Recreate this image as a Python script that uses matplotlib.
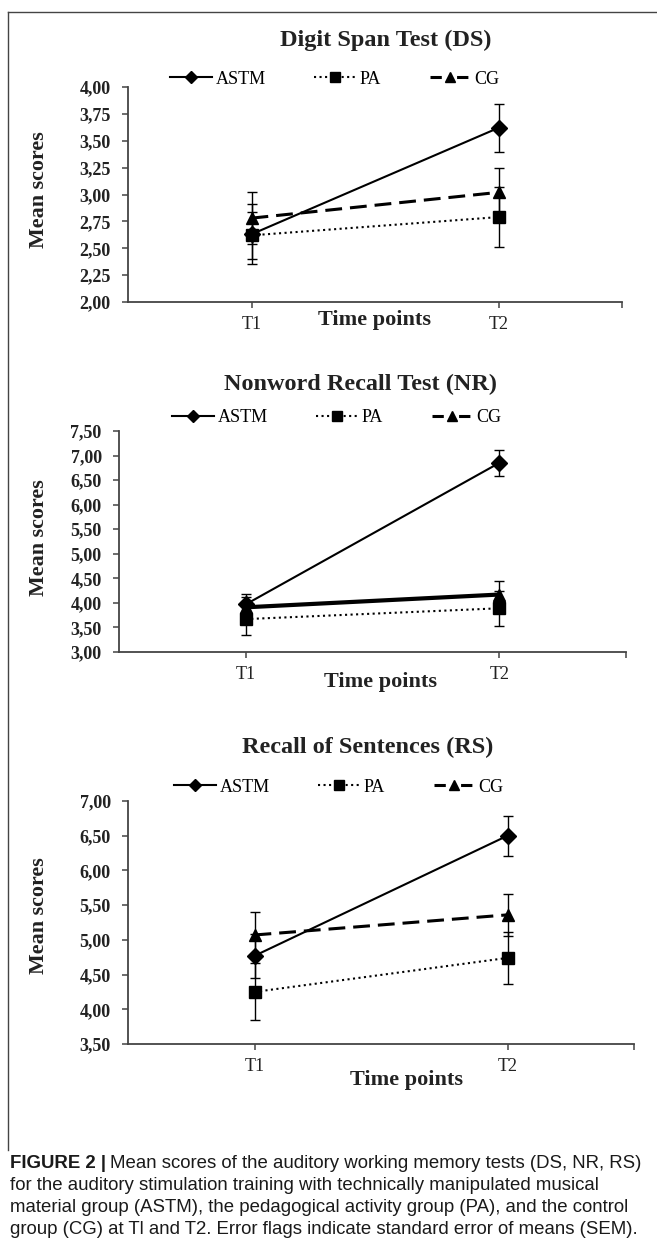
import matplotlib
matplotlib.use('Agg')
import matplotlib.pyplot as plt
from matplotlib.ticker import FuncFormatter, MultipleLocator
from matplotlib.lines import Line2D

# data
times = ['T1', 'T2']
groups = ['ASTM', 'PA', 'CG']

ds_astm = [2.63, 3.62]
ds_astm_sem = [0.28, 0.22]
ds_pa = [2.62, 2.79]
ds_pa_sem = [0.22, 0.28]
ds_cg = [2.78, 3.02]
ds_cg_sem = [0.24, 0.23]

nr_astm = [3.97, 6.85]
nr_astm_sem = [0.22, 0.27]
nr_pa = [3.67, 3.89]
nr_pa_sem = [0.33, 0.36]
nr_cg = [3.91, 4.17]
nr_cg_sem = [0.20, 0.27]

rs_astm = [4.77, 6.50]
rs_astm_sem = [0.32, 0.29]
rs_pa = [4.25, 4.74]
rs_pa_sem = [0.41, 0.37]
rs_cg = [5.07, 5.36]
rs_cg_sem = [0.33, 0.30]

caption_lines = [
    'Mean scores of the auditory working memory tests (DS, NR, RS)',
    'for the auditory stimulation training with technically manipulated musical',
    'material group (ASTM), the pedagogical activity group (PA), and the control',
    'group (CG) at Tl and T2. Error flags indicate standard error of means (SEM).',
]

W, H = 657, 1238
SERIF = 'Liberation Serif'
SANS = 'Liberation Sans'
INK = '#222222'

fig = plt.figure(figsize=(W / 100, H / 100), dpi=100)


def fx(px):
    return px / W


def fy(py):
    return 1 - py / H


cg_dash = (0, (5.5, 2.6))
legend_handles = [
    Line2D([], [], color='black', lw=1.5, marker='D', ms=6.5),
    Line2D([], [], color='black', lw=1.5, ls=':', marker='s', ms=7),
    Line2D([], [], color='black', lw=2.2, ls=(0, (3.7, 5.0)), marker='^', ms=7.5),
]


def panel(box, title, title_xy, legend_xy, ylabel_xy, xlabel_xy,
          astm, astm_sem, pa, pa_sem, cg, cg_sem, ylim, step, cg_ls):
    left, top, right, bottom = box
    ax = fig.add_axes([fx(left), fy(bottom), fx(right - left), (bottom - top) / H])
    x = [1, 2]
    eb = dict(ecolor='black', elinewidth=1.0, capsize=3.8, capthick=1.0)
    ax.errorbar(x, pa, yerr=pa_sem, color='black', lw=1.5, ls=':', marker='s',
                ms=8.5, zorder=3, **eb)
    ax.errorbar(x, cg, yerr=cg_sem, color='black',
                lw=3.0 if cg_ls == '-' else 2.2, ls=cg_ls, marker='^',
                ms=9, zorder=4, **eb)
    ax.errorbar(x, astm, yerr=astm_sem, color='black', lw=1.5, ls='-', marker='D',
                ms=8, zorder=5, **eb)

    ax.set_xlim(0.5, 2.5)
    ax.set_ylim(*ylim)
    ax.yaxis.set_major_locator(MultipleLocator(step))
    ax.yaxis.set_major_formatter(FuncFormatter(lambda v, p: f'{v:.2f}'.replace('.', ',')))
    ax.set_xticks(x)
    ax.set_xticklabels(times)
    ax.set_xticks([2.5], minor=True)
    for s in ['top', 'right']:
        ax.spines[s].set_visible(False)
    for s in ['left', 'bottom']:
        ax.spines[s].set_color('#444444')
        ax.spines[s].set_linewidth(1.3)
    ax.tick_params(axis='y', direction='out', length=4.5, width=1.1, color='#444444',
                   pad=8, labelsize=13, labelcolor=INK)
    ax.tick_params(axis='x', which='both', direction='out', length=4.5, width=1.1,
                   color='#444444', pad=5.5, labelsize=13, labelcolor=INK)
    for lab in ax.get_yticklabels():
        lab.set_fontfamily(SERIF)
        lab.set_fontweight('bold')
    for lab in ax.get_xticklabels():
        lab.set_fontfamily(SERIF)

    fig.text(fx(title_xy[0]), fy(title_xy[1]), title, ha='center', va='center',
             fontsize=17.5, fontweight='bold', family=SERIF, color=INK)
    fig.text(fx(ylabel_xy[0]), fy(ylabel_xy[1]), 'Mean scores', ha='center',
             va='center', rotation=90, fontsize=15.8, fontweight='bold',
             family=SERIF, color=INK)
    fig.text(fx(xlabel_xy[0]), fy(xlabel_xy[1]), 'Time points', ha='center',
             va='center', fontsize=16, fontweight='bold', family=SERIF, color=INK)
    ax.legend(legend_handles, groups, loc='center',
              bbox_to_anchor=(fx(legend_xy[0]), fy(legend_xy[1])),
              bbox_transform=fig.transFigure, ncol=3, frameon=False,
              handlelength=2.3, handletextpad=0.2, columnspacing=2.7,
              numpoints=1, borderpad=0, borderaxespad=0,
              prop={'family': SERIF, 'size': 13})
    return ax


panel((128, 87, 622, 302), 'Digit Span Test (DS)', (386, 40), (335, 79), (39, 190),
      (374, 320), ds_astm, ds_astm_sem, ds_pa, ds_pa_sem, ds_cg, ds_cg_sem,
      (2.0, 4.0), 0.25, cg_dash)
panel((119, 431, 626, 652), 'Nonword Recall Test (NR)', (360, 384), (337, 418),
      (39, 538), (381, 682), nr_astm, nr_astm_sem, nr_pa, nr_pa_sem, nr_cg,
      nr_cg_sem, (3.0, 7.5), 0.5, '-')
panel((128, 801, 634, 1044), 'Recall of Sentences (RS)', (368, 747), (339, 787),
      (39, 916), (406, 1080), rs_astm, rs_astm_sem, rs_pa, rs_pa_sem, rs_cg,
      rs_cg_sem, (3.5, 7.0), 0.5, cg_dash)

# frame around the figure graphic (left and top edges visible)
fig.add_artist(Line2D([fx(8), fx(8)], [fy(12), fy(1150)], transform=fig.transFigure,
                      color='#444444', lw=1.0))
fig.add_artist(Line2D([fx(8), 1.0], [fy(12), fy(12)], transform=fig.transFigure,
                      color='#444444', lw=1.0))

# caption
renderer = fig.canvas.get_renderer()
cap_size = 13.4
cap_y = [1164, 1186, 1208, 1230]
head = fig.text(fx(10), fy(cap_y[0]), 'FIGURE 2 |', ha='left', va='center',
                fontsize=cap_size, fontweight='bold', family=SANS, color='#1a1a1a')
hw = head.get_window_extent(renderer).width
fig.text(fx(10 + hw + 4), fy(cap_y[0]), caption_lines[0], ha='left', va='center',
         fontsize=cap_size, family=SANS, color='#1a1a1a')
for yy, line in zip(cap_y[1:], caption_lines[1:]):
    fig.text(fx(10), fy(yy), line, ha='left', va='center',
             fontsize=cap_size, family=SANS, color='#1a1a1a')

fig.savefig('out.png', dpi=100)
